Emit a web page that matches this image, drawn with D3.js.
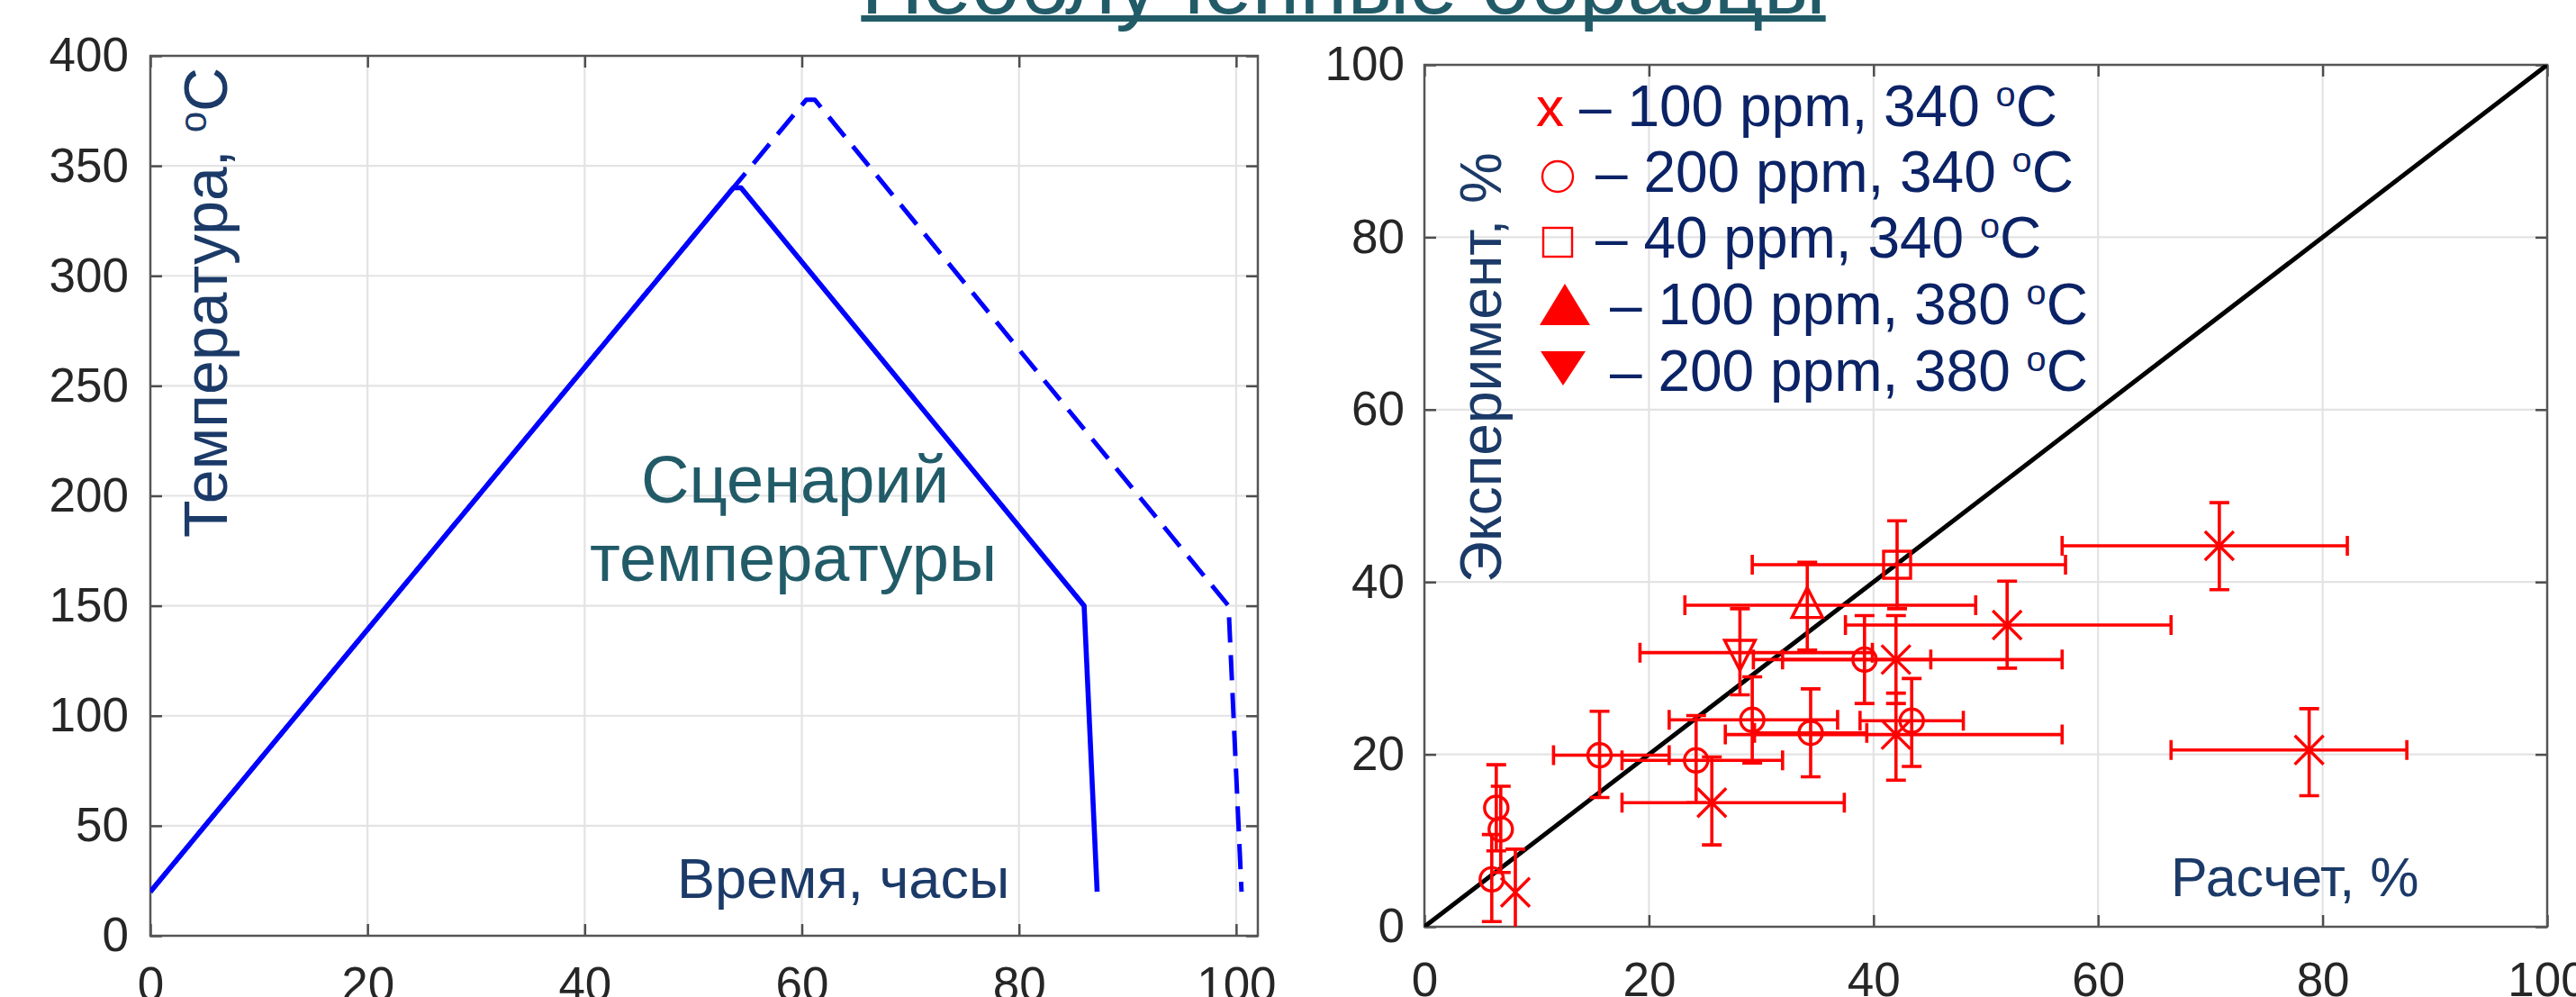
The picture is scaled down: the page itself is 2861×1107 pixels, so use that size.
<!DOCTYPE html>
<html><head><meta charset="utf-8">
<script src="https://cdn.jsdelivr.net/npm/d3@7"></script>
<style>body{margin:0;background:#fff}svg{display:block}</style>
</head><body><svg id="c" width="2861" height="1107"></svg>
<script>
// ---------- DATA ----------
// Left: temperature scenario
const timeSolid = [0, 53.7, 54.4, 86.0, 87.2];
const tempSolid = [20, 340, 340, 150, 20];
const timeDashed = [0, 60.4, 61.2, 99.3, 100.5];
const tempDashed = [20, 380, 380, 150, 20];
const leftXTicks = [0, 20, 40, 60, 80, 100];
const leftYTicks = [0, 50, 100, 150, 200, 250, 300, 350, 400];

// Right: experiment vs calculation
const diagX = [0, 100];
const diagY = [0, 100];
const rightTicks = [0, 20, 40, 60, 80, 100];

// x – 100 ppm, 340 °C
const calc100_340   = [70.8, 51.9, 42.0, 42.0, 78.8, 25.6, 8.1];
const exp100_340    = [44.2, 35.0, 31.0, 22.3, 20.5, 14.4, 4.0];
const calcLo100_340 = [56.8, 37.5, 29.3, 26.8, 66.5, 17.6, 8.1];
const calcHi100_340 = [82.2, 66.5, 56.8, 56.8, 87.5, 37.4, 8.1];
const expLo100_340  = [39.1, 30.0, 25.9, 17.0, 15.2, 9.5, -1.0];
const expHi100_340  = [49.2, 40.1, 36.1, 27.1, 25.3, 19.7, 9.0];

// o – 200 ppm, 340 °C
const calc200_340   = [39.2, 29.2, 34.4, 15.6, 24.2, 43.4, 6.4, 6.8, 6.0];
const exp200_340    = [31.0, 24.0, 22.5, 19.9, 19.3, 23.9, 13.8, 11.3, 5.5];
const calcLo200_340 = [31.9, 21.8, 29.4, 11.5, 17.6, 38.8, 6.4, 6.8, 6.0];
const calcHi200_340 = [45.1, 36.8, 39.4, 21.8, 31.9, 48.0, 6.4, 6.8, 6.0];
const expLo200_340  = [25.9, 19.0, 17.4, 15.0, 14.4, 18.6, 8.8, 6.3, 0.6];
const expHi200_340  = [36.1, 29.0, 27.6, 25.0, 24.5, 28.8, 18.8, 16.3, 10.7];

// □ – 40 ppm, 340 °C
const calc40_340 = [42.1], exp40_340 = [42.0];
const calcLo40_340 = [29.2], calcHi40_340 = [57.1];
const expLo40_340 = [36.9], expHi40_340 = [47.1];

// ▲ – 100 ppm, 380 °C
const calc100_380 = [34.1], exp100_380 = [37.3];
const calcLo100_380 = [23.2], calcHi100_380 = [49.1];
const expLo100_380 = [32.1], expHi100_380 = [42.3];

// ▼ – 200 ppm, 380 °C
const calc200_380 = [28.1], exp200_380 = [31.8];
const calcLo200_380 = [19.2], calcHi200_380 = [39.9];
const expLo200_380 = [26.9], expHi200_380 = [36.9];

const legendLabels = ["– 100 ppm, 340 ", "– 200 ppm, 340 ", "– 40 ppm, 340 ", "– 100 ppm, 380 ", "– 200 ppm, 380 "];
const legendMarkers = ["x", "circle", "square", "up", "down"];

// ---------- DRAW ----------
const svg = d3.select("#c");
const FONT = '"Liberation Sans", Arial, Helvetica, sans-serif';
const NAVY = "#1b3a68", LEGNAVY = "#0b2366", TEAL = "#225b68", RED = "#ff0000";
svg.append("rect").attr("width", 2861).attr("height", 1107).attr("fill", "#fff");

function frame(g, x, y, xt, yt, box, padX, padY, id) {
  const [l, r, t, b] = box;
  g.append("g").selectAll("line").data(xt.filter(v => x(v) > l + 1 && x(v) < r - 1)).join("line")
    .attr("x1", d => x(d)).attr("x2", d => x(d)).attr("y1", t).attr("y2", b)
    .attr("stroke", "#e3e3e3").attr("stroke-width", 2.2);
  g.append("g").selectAll("line").data(yt.filter(v => y(v) > t + 1 && y(v) < b - 1)).join("line")
    .attr("y1", d => y(d)).attr("y2", d => y(d)).attr("x1", l).attr("x2", r)
    .attr("stroke", "#e3e3e3").attr("stroke-width", 2.2);
  const axes = [
    [d3.axisBottom(x).tickValues(xt).tickPadding(padX), `translate(0,${b})`],
    [d3.axisTop(x).tickValues(xt).tickFormat(() => ""), `translate(0,${t})`],
    [d3.axisLeft(y).tickValues(yt).tickPadding(padY), `translate(${l},0)`],
    [d3.axisRight(y).tickValues(yt).tickFormat(() => ""), `translate(${r},0)`]
  ];
  axes.forEach(([ax, tr]) => {
    const a = g.append("g").attr("transform", tr)
      .call(ax.tickSize(-13).tickSizeOuter(0));
    a.select(".domain").remove();
    a.selectAll(".tick line").attr("stroke", "#4d4d4d").attr("stroke-width", 2.5);
    a.selectAll(".tick text").attr("font-family", FONT).attr("font-size", 53).attr("fill", "#262626");
  });
  g.append("rect").attr("x", l).attr("y", t).attr("width", r - l).attr("height", b - t)
    .attr("fill", "none").attr("stroke", "#555").attr("stroke-width", 2.5);
  svg.append("clipPath").attr("id", id).append("rect")
    .attr("x", l).attr("y", t).attr("width", r - l).attr("height", b - t);
}

// ===== Left panel =====
const LB = [167, 1397, 62, 1039];
const xL = d3.scaleLinear().domain([0, 102]).range([LB[0], LB[1]]);
const yL = d3.scaleLinear().domain([0, 400]).range([LB[3], LB[2]]);
const gL = svg.append("g");
frame(gL, xL, yL, leftXTicks, leftYTicks, LB, 34, 24, "clipL");

const lineL = d3.line().x(d => xL(d[0])).y(d => yL(d[1]));
const pL = gL.append("g").attr("clip-path", "url(#clipL)");
pL.append("path").datum(d3.zip(timeDashed, tempDashed)).attr("d", lineL)
  .attr("fill", "none").attr("stroke", "#0000ff").attr("stroke-width", 5)
  .attr("stroke-dasharray", "28,14").attr("stroke-linejoin", "round");
pL.append("path").datum(d3.zip(timeSolid, tempSolid)).attr("d", lineL)
  .attr("fill", "none").attr("stroke", "#0000ff").attr("stroke-width", 5.6)
  .attr("stroke-linejoin", "round");

const yLab = gL.append("text").attr("transform", "translate(252,597) rotate(-90)")
  .attr("font-family", FONT).attr("font-size", 68).attr("fill", NAVY);
yLab.append("tspan").text("Температура, ");
yLab.append("tspan").text("o").attr("font-size", "0.62em").attr("dy", "-0.55em");
yLab.append("tspan").text("C").attr("dy", "0.341em");

gL.append("text").attr("x", 883).attr("y", 558).attr("text-anchor", "middle")
  .attr("font-family", FONT).attr("font-size", 74).attr("fill", TEAL).text("Сценарий");
gL.append("text").attr("x", 881).attr("y", 645).attr("text-anchor", "middle")
  .attr("font-family", FONT).attr("font-size", 74).attr("fill", TEAL).text("температуры");
gL.append("text").attr("x", 752).attr("y", 997)
  .attr("font-family", FONT).attr("font-size", 63).attr("fill", NAVY).text("Время, часы");

// ===== Right panel =====
const RB = [1582, 2829, 72, 1029];
const xR = d3.scaleLinear().domain([0, 100]).range([RB[0], RB[1]]);
const yR = d3.scaleLinear().domain([0, 100]).range([RB[3], RB[2]]);
const gR = svg.append("g");
frame(gR, xR, yR, rightTicks, rightTicks, RB, 39, 22, "clipR");

const pR = gR.append("g").attr("clip-path", "url(#clipR)");
pR.append("path").datum(d3.zip(diagX, diagY))
  .attr("d", d3.line().x(d => xR(d[0])).y(d => yR(d[1])))
  .attr("stroke", "#000").attr("stroke-width", 5).attr("fill", "none");

const series = [
  [calc100_340, exp100_340, calcLo100_340, calcHi100_340, expLo100_340, expHi100_340, "x"],
  [calc200_340, exp200_340, calcLo200_340, calcHi200_340, expLo200_340, expHi200_340, "circle"],
  [calc40_340, exp40_340, calcLo40_340, calcHi40_340, expLo40_340, expHi40_340, "square"],
  [calc100_380, exp100_380, calcLo100_380, calcHi100_380, expLo100_380, expHi100_380, "up"],
  [calc200_380, exp200_380, calcLo200_380, calcHi200_380, expLo200_380, expHi200_380, "down"]
];

function marker(g, type, cx, cy, s, fill, sw) {
  const st = el => el.attr("stroke", RED).attr("stroke-width", sw).attr("fill", fill);
  if (type === "x") {
    g.append("path").attr("d", `M${cx - s},${cy - s}L${cx + s},${cy + s}M${cx - s},${cy + s}L${cx + s},${cy - s}`)
      .attr("stroke", RED).attr("stroke-width", sw).attr("fill", "none");
  } else if (type === "circle") {
    st(g.append("circle").attr("cx", cx).attr("cy", cy).attr("r", s));
  } else if (type === "square") {
    st(g.append("rect").attr("x", cx - s).attr("y", cy - s).attr("width", 2 * s).attr("height", 2 * s));
  } else if (type === "up") {
    st(g.append("path").attr("d", `M${cx},${cy - s * 1.15}L${cx + s},${cy + s * 0.8}L${cx - s},${cy + s * 0.8}Z`));
  } else {
    st(g.append("path").attr("d", `M${cx},${cy + s * 1.15}L${cx + s},${cy - s * 0.8}L${cx - s},${cy - s * 0.8}Z`));
  }
}

const CAP = 11;
series.forEach(([cx, cy, xlo, xhi, ylo, yhi, type]) => {
  cx.forEach((v, i) => {
    const X = xR(v), Y = yR(cy[i]);
    const eb = pR.append("g").attr("stroke", RED).attr("stroke-width", 3.6).attr("fill", "none");
    const y1 = yR(ylo[i]), y2 = yR(yhi[i]);
    eb.append("path").attr("d", `M${X},${y1}L${X},${y2}M${X - CAP},${y1}L${X + CAP},${y1}M${X - CAP},${y2}L${X + CAP},${y2}`);
    if (xhi[i] - xlo[i] > 0.01) {
      const x1 = xR(xlo[i]), x2 = xR(xhi[i]);
      eb.append("path").attr("d", `M${x1},${Y}L${x2},${Y}M${x1},${Y - CAP}L${x1},${Y + CAP}M${x2},${Y - CAP}L${x2},${Y + CAP}`);
    }
    const size = type === "x" ? 16 : type === "circle" ? 13 : type === "square" ? 15 : 17;
    marker(pR, type, X, Y, size, "none", 3.4);
  });
});

gR.append("text").attr("transform", "translate(1667,647) rotate(-90)")
  .attr("font-family", FONT).attr("font-size", 64).attr("fill", NAVY).text("Эксперимент, %");
gR.append("text").attr("x", 2411).attr("y", 995)
  .attr("font-family", FONT).attr("font-size", 61).attr("fill", NAVY).text("Расчет, %");

// legend
const legRowsY = [140, 213, 286, 360, 434];
const legTextX = [1754, 1772, 1772, 1788, 1788];
const lg = gR.append("g");
legendLabels.forEach((lab, i) => {
  const by = legRowsY[i];
  const t = lg.append("text").attr("x", legTextX[i]).attr("y", by)
    .attr("font-family", FONT).attr("font-size", 64).attr("fill", LEGNAVY);
  t.append("tspan").text(lab);
  t.append("tspan").text("o").attr("font-size", "0.62em").attr("dy", "-0.55em");
  t.append("tspan").text("C").attr("dy", "0.341em");
  const m = legendMarkers[i];
  if (m === "x") {
    lg.append("text").attr("x", 1706).attr("y", by).attr("font-family", FONT)
      .attr("font-size", 62).attr("fill", RED).text("x");
  } else if (m === "circle") {
    marker(lg, m, 1730, by - 17, 17, "none", 2.4);
  } else if (m === "square") {
    marker(lg, m, 1730, by - 17, 16, "none", 2.4);
  } else if (m === "up") {
    lg.append("path").attr("d", `M1738,315L1766,361L1710,361Z`).attr("fill", RED);
  } else {
    lg.append("path").attr("d", `M1736,428L1761,390L1711,390Z`).attr("fill", RED);
  }
});

// title (cropped at top of image)
const title = svg.append("text").attr("x", 1492).attr("y", 15).attr("text-anchor", "middle")
  .attr("font-family", FONT).attr("font-size", 96).attr("fill", TEAL).text("Необлученные образцы");
const tl = title.node().getComputedTextLength();
svg.append("rect").attr("x", 1492 - tl / 2).attr("y", 17).attr("width", tl).attr("height", 7).attr("fill", TEAL);
</script>
</body></html>
